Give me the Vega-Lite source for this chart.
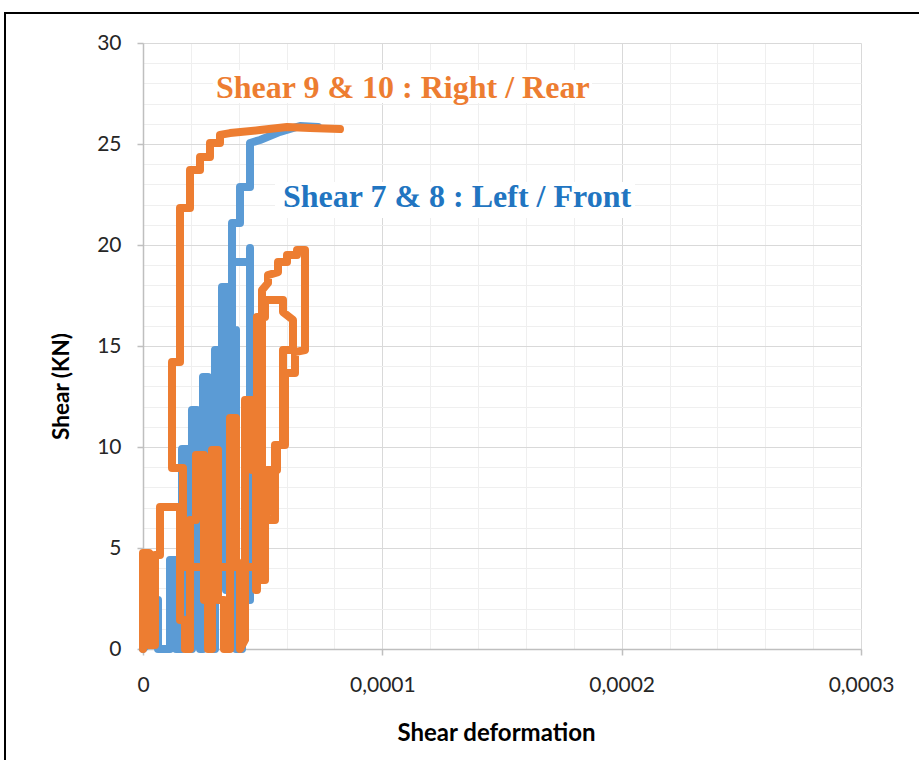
{
  "$schema": "https://vega.github.io/schema/vega-lite/v6.json",
  "width": 718,
  "height": 606,
  "autosize": "none",
  "padding": {"left": 143, "top": 43, "right": 58, "bottom": 111},
  "background": "white",
  "config": {"view": {"stroke": null}},
  "resolve": {"axis": {"x": "independent", "y": "independent"}},
  "datasets": {
    "blue": [
      {"i":0,"x":0,"y":0},{"i":1,"x":3.76e-6,"y":0.45},{"i":2,"x":3.76e-6,"y":2.43},{"i":3,"x":6.27e-6,"y":2.43},{"i":4,"x":6.27e-6,"y":0},
      {"i":5,"x":1.128e-5,"y":0},{"i":6,"x":1.128e-5,"y":4.41},{"i":7,"x":1.379e-5,"y":4.41},{"i":8,"x":1.379e-5,"y":0},
      {"i":9,"x":1.630e-5,"y":0},{"i":10,"x":1.630e-5,"y":9.90},{"i":11,"x":1.880e-5,"y":9.90},{"i":12,"x":1.880e-5,"y":0},
      {"i":13,"x":2.047e-5,"y":0},{"i":14,"x":2.047e-5,"y":11.83},{"i":15,"x":2.256e-5,"y":11.83},{"i":16,"x":2.256e-5,"y":6.39},{"i":17,"x":2.382e-5,"y":6.39},{"i":18,"x":2.382e-5,"y":0},
      {"i":19,"x":2.507e-5,"y":0},{"i":20,"x":2.507e-5,"y":13.47},{"i":21,"x":2.716e-5,"y":13.47},{"i":22,"x":2.716e-5,"y":4.41},{"i":23,"x":2.883e-5,"y":4.41},{"i":24,"x":2.883e-5,"y":0},
      {"i":25,"x":3.008e-5,"y":0},{"i":26,"x":3.008e-5,"y":14.80},{"i":27,"x":3.217e-5,"y":14.80},{"i":28,"x":3.217e-5,"y":8.86},{"i":29,"x":3.301e-5,"y":8.86},{"i":30,"x":3.301e-5,"y":17.92},{"i":31,"x":3.552e-5,"y":17.92},
      {"i":32,"x":3.552e-5,"y":11.34},{"i":33,"x":3.468e-5,"y":11.34},{"i":34,"x":3.468e-5,"y":2.92},{"i":35,"x":3.719e-5,"y":2.92},{"i":36,"x":3.719e-5,"y":19.16},{"i":37,"x":4.471e-5,"y":19.16},{"i":38,"x":4.471e-5,"y":19.85},
      {"i":39,"x":4.471e-5,"y":2.43},{"i":40,"x":4.137e-5,"y":2.43},{"i":41,"x":4.137e-5,"y":0},{"i":42,"x":3.886e-5,"y":0},{"i":43,"x":3.886e-5,"y":15.79},{"i":44,"x":3.719e-5,"y":15.79},{"i":45,"x":3.719e-5,"y":21.09},
      {"i":46,"x":4.053e-5,"y":21.09},{"i":47,"x":4.053e-5,"y":22.87},{"i":48,"x":4.471e-5,"y":22.87},{"i":49,"x":4.471e-5,"y":25.05},{"i":50,"x":4.889e-5,"y":25.20},{"i":51,"x":5.724e-5,"y":25.60},{"i":52,"x":6.560e-5,"y":25.89},{"i":53,"x":7.312e-5,"y":25.84}
    ],
    "orange": [
      {"i":0,"x":0,"y":0},{"i":1,"x":0,"y":4.75},{"i":2,"x":2.51e-6,"y":4.75},{"i":3,"x":2.51e-6,"y":0.20},{"i":4,"x":5.01e-6,"y":0.20},{"i":5,"x":5.01e-6,"y":4.65},{"i":6,"x":7.10e-6,"y":4.65},{"i":7,"x":7.10e-6,"y":7.03},
      {"i":8,"x":1.546e-5,"y":7.03},{"i":9,"x":1.546e-5,"y":1.44},{"i":10,"x":1.755e-5,"y":1.44},{"i":11,"x":1.755e-5,"y":0},{"i":12,"x":1.964e-5,"y":0},{"i":13,"x":1.964e-5,"y":6.39},{"i":14,"x":2.214e-5,"y":6.39},{"i":15,"x":2.214e-5,"y":9.60},
      {"i":16,"x":2.549e-5,"y":9.60},{"i":17,"x":2.549e-5,"y":2.43},{"i":18,"x":2.716e-5,"y":2.43},{"i":19,"x":2.716e-5,"y":0},{"i":20,"x":2.883e-5,"y":0},{"i":21,"x":2.883e-5,"y":9.85},{"i":22,"x":3.134e-5,"y":9.85},{"i":23,"x":3.134e-5,"y":2.43},
      {"i":24,"x":3.384e-5,"y":2.43},{"i":25,"x":3.384e-5,"y":0},{"i":26,"x":3.635e-5,"y":0},{"i":27,"x":3.635e-5,"y":11.44},{"i":28,"x":3.886e-5,"y":11.44},{"i":29,"x":3.886e-5,"y":4.41},{"i":30,"x":4.053e-5,"y":4.16},{"i":31,"x":4.053e-5,"y":0},
      {"i":32,"x":4.262e-5,"y":0.45},{"i":33,"x":4.262e-5,"y":12.33},{"i":34,"x":4.554e-5,"y":12.33},{"i":35,"x":4.554e-5,"y":8.86},{"i":36,"x":4.721e-5,"y":8.86},{"i":37,"x":4.721e-5,"y":2.92},{"i":38,"x":4.763e-5,"y":2.92},{"i":39,"x":4.763e-5,"y":16.44},
      {"i":40,"x":5.098e-5,"y":16.44},{"i":41,"x":5.098e-5,"y":17.28},{"i":42,"x":5.850e-5,"y":17.28},{"i":43,"x":5.850e-5,"y":16.68},{"i":44,"x":6.267e-5,"y":16.29},{"i":45,"x":6.267e-5,"y":14.80},{"i":46,"x":5.850e-5,"y":14.80},{"i":47,"x":5.850e-5,"y":10.10},
      {"i":48,"x":5.515e-5,"y":10.10},{"i":49,"x":5.515e-5,"y":6.39},{"i":50,"x":5.098e-5,"y":6.39},{"i":51,"x":5.098e-5,"y":3.42},{"i":52,"x":4.889e-5,"y":3.42},{"i":53,"x":4.889e-5,"y":7.38},{"i":54,"x":4.972e-5,"y":8.86},{"i":55,"x":4.972e-5,"y":17.77},
      {"i":56,"x":5.223e-5,"y":18.12},{"i":57,"x":5.223e-5,"y":18.51},{"i":58,"x":5.641e-5,"y":18.66},{"i":59,"x":5.641e-5,"y":19.16},{"i":60,"x":6.017e-5,"y":19.16},{"i":61,"x":6.017e-5,"y":19.50},{"i":62,"x":6.435e-5,"y":19.50},{"i":63,"x":6.435e-5,"y":19.75},
      {"i":64,"x":6.769e-5,"y":19.75},{"i":65,"x":6.769e-5,"y":14.80},{"i":66,"x":6.351e-5,"y":14.70},{"i":67,"x":6.351e-5,"y":13.66},{"i":68,"x":5.933e-5,"y":13.66},{"i":69,"x":5.933e-5,"y":10.10},{"i":70,"x":5.599e-5,"y":10.10},{"i":71,"x":5.599e-5,"y":8.86},
      {"i":72,"x":5.181e-5,"y":8.86},{"i":73,"x":5.181e-5,"y":6.63},{"i":74,"x":4.972e-5,"y":6.63},{"i":75,"x":4.972e-5,"y":4.06},{"i":76,"x":1.671e-5,"y":4.06},{"i":77,"x":1.671e-5,"y":8.96},{"i":78,"x":1.212e-5,"y":8.96},{"i":79,"x":1.212e-5,"y":14.21},
      {"i":80,"x":1.546e-5,"y":14.21},{"i":81,"x":1.546e-5,"y":21.83},{"i":82,"x":1.964e-5,"y":21.83},{"i":83,"x":1.964e-5,"y":23.71},{"i":84,"x":2.382e-5,"y":23.71},{"i":85,"x":2.382e-5,"y":24.36},{"i":86,"x":2.799e-5,"y":24.36},{"i":87,"x":2.799e-5,"y":25.05},
      {"i":88,"x":3.217e-5,"y":25.05},{"i":89,"x":3.217e-5,"y":25.45},{"i":90,"x":3.635e-5,"y":25.54},{"i":91,"x":4.889e-5,"y":25.69},{"i":92,"x":6.017e-5,"y":25.84},{"i":93,"x":6.978e-5,"y":25.79},{"i":94,"x":8.231e-5,"y":25.74}
    ],
    "boxes": [
      {"x":2.92e-5,"x2":1.876e-4,"y":28.66,"y2":27.03},
      {"x":5.515e-5,"x2":2.0557e-4,"y":23.12,"y2":21.34}
    ],
    "labels": [
      {"label":"Shear 9 & 10 : Right / Rear","x":3.05e-5,"y":27.28,"c":"o"},
      {"label":"Shear 7 & 8 : Left / Front","x":5.85e-5,"y":21.88,"c":"b"}
    ],
    "frame": [
      {"x":-5.766e-5,"x2":3.4e-4,"y":31.49,"y2":-7}
    ]
  },
  "layer": [
    {
      "data": {"name": "boxes"},
      "mark": {"type": "rect", "opacity": 0},
      "encoding": {
        "x": {"field": "x", "type": "quantitative",
          "scale": {"domain": [0, 0.0003], "nice": false, "zero": false},
          "axis": {
            "orient": "bottom",
            "values": [0.00002,0.00004,0.00006,0.00008,0.00012,0.00014,0.00016,0.00018,0.00022,0.00024,0.00026,0.00028],
            "title": null, "labels": false, "ticks": false, "domain": false,
            "grid": true, "gridColor": "#efefef", "gridWidth": 1
          }
        },
        "x2": {"field": "x2"},
        "y": {"field": "y", "type": "quantitative",
          "scale": {"domain": [0, 30], "nice": false, "zero": false},
          "axis": {
            "orient": "left",
            "values": [1,2,3,4,6,7,8,9,11,12,13,14,16,17,18,19,21,22,23,24,26,27,28,29],
            "title": null, "labels": false, "ticks": false, "domain": false,
            "grid": true, "gridColor": "#efefef", "gridWidth": 1
          }
        },
        "y2": {"field": "y2"}
      }
    },
    {
      "data": {"name": "frame"},
      "mark": {"type": "rect", "fill": null, "stroke": "black", "strokeWidth": 2, "clip": false},
      "encoding": {
        "x": {"field": "x", "type": "quantitative",
          "axis": {
            "orient": "bottom",
            "values": [0, 0.0001, 0.0002, 0.0003],
            "title": "Shear deformation",
            "titleFont": "Lato", "titleFontSize": 24, "titleFontWeight": "bold", "titleColor": "#000000", "titlePadding": 26, "titleX": 353,
            "labelFont": "Lato", "labelFontSize": 21, "labelColor": "#262626", "labelPadding": 19,
            "labelExpr": "datum.value == 0 ? '0' : replace(format(datum.value, '.4f'), '.', ',')",
            "labelOverlap": false, "labelFlush": false,
            "domainColor": "#bfbfbf", "domainWidth": 1.5,
            "tickSize": 6, "tickColor": "#bfbfbf", "tickWidth": 1.5,
            "grid": true, "gridWidth": 1, "gridColor": "#d9d9d9"
          }
        },
        "x2": {"field": "x2"},
        "y": {"field": "y", "type": "quantitative",
          "axis": {
            "orient": "left",
            "values": [0, 5, 10, 15, 20, 25, 30],
            "title": "Shear (KN)",
            "titleFont": "Lato", "titleFontSize": 22.5, "titleFontWeight": "bold", "titleColor": "#000000", "titlePadding": 23, "titleY": 343,
            "labelFont": "Lato", "labelFontSize": 21, "labelColor": "#262626", "labelPadding": 16,
            "labelOverlap": false, "labelFlush": false,
            "domainColor": "#bfbfbf", "domainWidth": 1.5,
            "tickSize": 6, "tickColor": "#bfbfbf", "tickWidth": 1.5,
            "grid": true, "gridWidth": 1, "gridColor": "#d9d9d9"
          }
        },
        "y2": {"field": "y2"}
      }
    },
    {
      "data": {"name": "boxes"},
      "mark": {"type": "rect", "fill": "white", "stroke": null},
      "encoding": {
        "x": {"field": "x", "type": "quantitative", "axis": null},
        "x2": {"field": "x2"},
        "y": {"field": "y", "type": "quantitative", "axis": null},
        "y2": {"field": "y2"}
      }
    },
    {
      "data": {"name": "blue"},
      "mark": {"type": "line", "color": "#5b9bd5", "strokeWidth": 8, "strokeCap": "round", "strokeJoin": "round"},
      "encoding": {
        "x": {"field": "x", "type": "quantitative", "axis": null},
        "y": {"field": "y", "type": "quantitative", "axis": null},
        "order": {"field": "i", "type": "quantitative"}
      }
    },
    {
      "data": {"name": "orange"},
      "mark": {"type": "line", "color": "#ed7d31", "strokeWidth": 8, "strokeCap": "round", "strokeJoin": "round"},
      "encoding": {
        "x": {"field": "x", "type": "quantitative", "axis": null},
        "y": {"field": "y", "type": "quantitative", "axis": null},
        "order": {"field": "i", "type": "quantitative"}
      }
    },
    {
      "data": {"name": "labels"},
      "mark": {"type": "text", "align": "left", "baseline": "alphabetic", "font": "Liberation Serif", "fontSize": 32, "fontWeight": "bold"},
      "encoding": {
        "x": {"field": "x", "type": "quantitative", "axis": null},
        "y": {"field": "y", "type": "quantitative", "axis": null},
        "text": {"field": "label"},
        "color": {"field": "c", "type": "nominal", "scale": {"domain": ["o", "b"], "range": ["#ed7d31", "#2175c1"]}, "legend": null}
      }
    }
  ]
}
